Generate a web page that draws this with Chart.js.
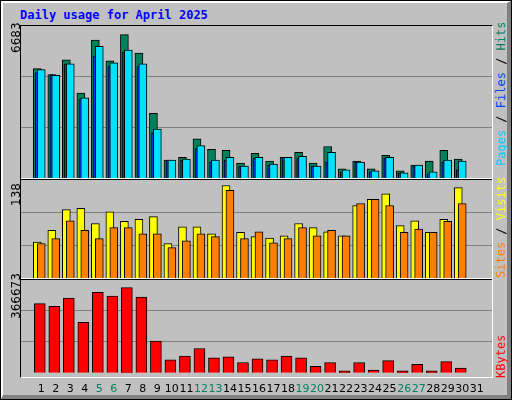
<!DOCTYPE html>
<html>
<head>
<meta charset="utf-8">
<script src="https://cdn.jsdelivr.net/npm/chart.js@4"></script>
<style>
body { margin: 0; }
#wrap { position: relative; width: 510px; height: 398px; background: #c0c0c0; border: 1px solid #000; overflow: hidden; }
#bevel { position: absolute; left: 0; top: 0; width: 504px; height: 392px; border-top: 2px solid #fff; border-left: 2px solid #fff; border-right: 4px solid #808080; border-bottom: 4px solid #808080; }
#title { position: absolute; left: 19px; top: 7px; font: bold 12px "DejaVu Sans Mono", monospace; color: #0000ff; }
#frame { position: absolute; left: 19px; top: 24px; width: 471px; height: 351px; border-top: 1px solid #000; border-left: 1px solid #000; border-right: 1px solid #fff; border-bottom: 1px solid #fff; }
.sep { position: absolute; left: 20px; width: 471px; height: 1px; }
canvas { position: absolute; }
.lbl { position: absolute; font: 12px "DejaVu Sans", sans-serif; transform-origin: 0 0; transform: rotate(-90deg); white-space: nowrap; }
.rlbl { position: absolute; font: 12px "DejaVu Sans Mono", monospace; transform-origin: 0 0; transform: rotate(-90deg); white-space: nowrap; }
</style>
</head>
<body>
<div id="wrap">
  <div id="bevel"></div>
  <div id="title">Daily usage for April 2025</div>
  <div id="frame"></div>
  <div class="sep" style="top:177px;background:#fff"></div>
  <div class="sep" style="top:178px;background:#000"></div>
  <div class="sep" style="top:277px;background:#fff"></div>
  <div class="sep" style="top:278px;background:#000"></div>
  <canvas id="c1" style="left:20px;top:25px;width:471px;height:152px"></canvas>
  <canvas id="c2" style="left:20px;top:179px;width:471px;height:98px"></canvas>
  <canvas id="c3" style="left:20px;top:279px;width:471px;height:118px"></canvas>
  <div class="lbl" style="left:8px;top:52px">6683</div>
  <div class="lbl" style="left:8px;top:205px">138</div>
  <div class="lbl" style="left:8px;top:318px">366673</div>
  <div class="rlbl" style="left:493px;top:165px"><span style="color:#00c8ff">Pages</span> / <span style="color:#0040ff">Files</span> / <span style="color:#00805c">Hits</span></div>
  <div class="rlbl" style="left:493px;top:277px"><span style="color:#ff8000">Sites</span> / <span style="color:#ffff00">Visits</span></div>
  <div class="rlbl" style="left:493px;top:377px"><span style="color:#ff0000">KBytes</span></div>
</div>
<script>
let dagen = [];
for (let d = 1; d <= 31; d++) dagen.push(d);
let weekend = [5, 6, 12, 13, 19, 20, 26, 27];

let hits = [4950, 4686, 5347, 3849, 6243, 5303, 6493, 5655, 2923, 808, 940, 1777, 1293, 1249, 676, 1116, 764, 940, 1160, 676, 1425, 411, 764, 411, 1028, 323, 588, 764, 1249, 852, 0];
let files = [4906, 4642, 5171, 3628, 5964, 5215, 5788, 5171, 2218, 808, 852, 1469, 808, 940, 544, 940, 632, 940, 984, 544, 1160, 367, 720, 323, 940, 235, 588, 279, 808, 764, 0];
let pages = [4774, 4686, 5171, 3584, 5523, 5039, 5700, 5039, 2042, 808, 808, 1337, 720, 808, 544, 896, 588, 940, 896, 544, 720, 279, 720, 279, 896, 235, 544, 191, 720, 367, 0];
let visits = [52, 69, 99, 101, 79, 96, 82, 85, 89, 50, 74, 74, 64, 134, 66, 60, 58, 61, 79, 73, 67, 61, 105, 114, 122, 76, 83, 66, 85, 131, 0];
let sites = [50, 57, 83, 69, 57, 73, 73, 64, 64, 44, 54, 64, 60, 127, 57, 67, 51, 57, 73, 61, 69, 61, 108, 114, 105, 66, 71, 66, 82, 108, 0];
let kbytes = [285625, 274046, 308784, 208429, 331943, 316504, 351242, 312644, 131233, 54037, 69476, 100355, 61757, 65617, 42458, 57897, 54037, 69476, 61757, 27019, 42458, 7720, 42458, 11579, 50177, 7720, 34738, 7720, 46318, 19299, 0];

function punten(reeks, verschuiving) {
    return reeks.map((v, i) => ({ x: dagen[i] + verschuiving, y: v }));
}

function balk(reeks, verschuiving, kleur, breedte) {
    return {
        data: punten(reeks, verschuiving),
        backgroundColor: kleur,
        borderColor: "#000",
        borderWidth: 1,
        borderSkipped: "bottom",
        barThickness: breedte,
        grouped: false
    };
}

function opties(max, metX) {
    return {
        responsive: false,
        animation: false,
        layout: { padding: 0 },
        plugins: { legend: { display: false }, tooltip: { enabled: false } },
        scales: {
            x: {
                type: "linear", min: 0.4, max: 31.8,
                display: metX,
                grid: { display: false },
                border: { display: false },
                afterBuildTicks: (s) => { s.ticks = dagen.map(d => ({ value: d + 0.27 })); },
                ticks: {
                    padding: 2,
                    autoSkip: false,
                    maxRotation: 0,
                    font: { family: "DejaVu Sans", size: 11 },
                    color: (c) => weekend.includes(Math.round(c.tick.value)) ? "#00805c" : "#000",
                    callback: (v) => Math.round(v)
                }
            },
            y: {
                min: 0, max: max,
                afterBuildTicks: (s) => { s.ticks = [1, 2].map(k => ({ value: max * k / 3 })); },
                ticks: { display: false },
                border: { display: false },
                grid: { color: "#808080", lineWidth: 1, drawTicks: false }
            }
        }
    };
}

function maak(id, sets, max, metX) {
    let el = document.getElementById(id);
    el.width = parseInt(el.style.width);
    el.height = parseInt(el.style.height);
    return new Chart(el, { type: "bar", data: { datasets: sets }, options: opties(max, metX) });
}

maak("c1", [
    balk(files, 0.27, "#00e0ff", 8),
    balk(pages, -0.03, "#0040ff", 3),
    balk(hits, 0, "#00805c", 8)
], 6880, false);

maak("c2", [
    balk(sites, 0.27, "#ff8000", 8),
    balk(visits, 0, "#ffff00", 8)
], 142, false);

maak("c3", [
    balk(kbytes, 0.17, "#ff0000", 11)
], 383000, true);
</script>
</body>
</html>
